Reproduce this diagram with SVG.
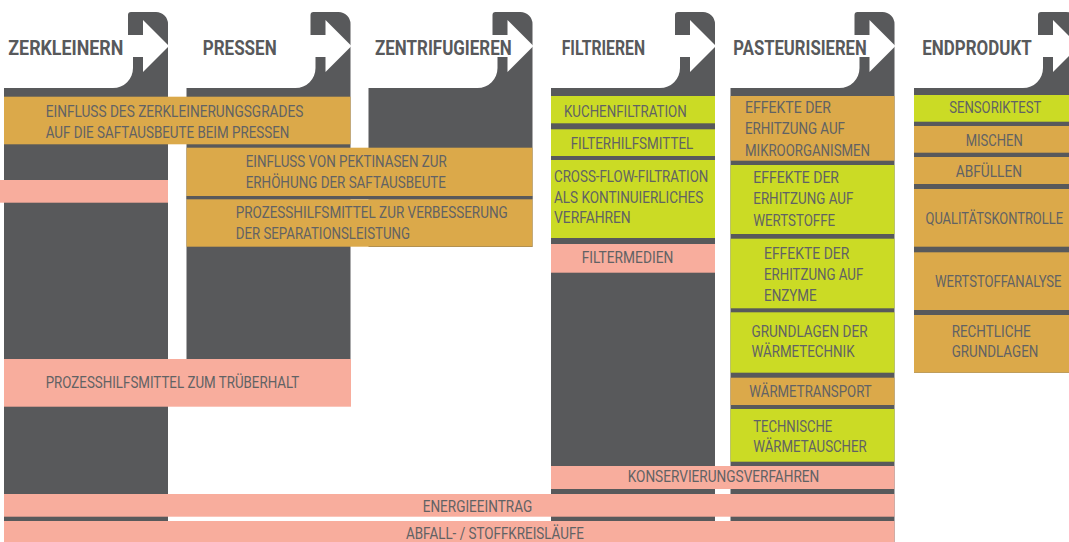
<svg xmlns="http://www.w3.org/2000/svg" width="1069" height="542" viewBox="0 0 1069 542">
<style>
.dk{fill:#58595b}
.gd{fill:#dba94a}
.gr{fill:#cbdb25}
.pk{fill:#f8ad9d}
.ar{fill:#ffffff}
text{font-family:Roboto,"Liberation Sans",sans-serif;}
.h{font-size:21px;font-weight:700;fill:#58595b}
.t{font-size:16px;fill:#616264}
</style>
<rect width="1069" height="542" fill="#ffffff"/>
<g id="columns">
<g id="col-zerkleinern">
<path class="dk" d="M128,15 Q128,12 131,12 H156 A12,12 0 0 1 168,24 V542 H4 V88 H113 A20,20 0 0 0 133,68 V35 H128 Z"/>
<polygon class="ar" points="132,35 143,35 143,20 169,46 143,72 143,57 132,57"/>
<text class="h" x="8.3" y="55" textLength="115" lengthAdjust="spacingAndGlyphs">ZERKLEINERN</text>
</g>
<g id="col-pressen">
<path class="dk" d="M310.5,15 Q310.5,12 313.5,12 H338.5 A12,12 0 0 1 350.5,24 V359 H186.5 V88 H295.5 A20,20 0 0 0 315.5,68 V35 H310.5 Z"/>
<polygon class="ar" points="314.5,35 325.5,35 325.5,20 351.5,46 325.5,72 325.5,57 314.5,57"/>
<text class="h" x="202.7" y="55" textLength="74" lengthAdjust="spacingAndGlyphs">PRESSEN</text>
</g>
<g id="col-zentrifugieren">
<path class="dk" d="M492.5,15 Q492.5,12 495.5,12 H520.5 A12,12 0 0 1 532.5,24 V247 H368.5 V88 H477.5 A20,20 0 0 0 497.5,68 V35 H492.5 Z"/>
<polygon class="ar" points="496.5,35 507.5,35 507.5,20 533.5,46 507.5,72 507.5,57 496.5,57"/>
<text class="h" x="375" y="55" textLength="136.7" lengthAdjust="spacingAndGlyphs">ZENTRIFUGIEREN</text>
</g>
<g id="col-filtrieren">
<path class="dk" d="M675,15 Q675,12 678,12 H703 A12,12 0 0 1 715,24 V542 H551 V88 H660 A20,20 0 0 0 680,68 V35 H675 Z"/>
<polygon class="ar" points="679,35 690,35 690,20 716,46 690,72 690,57 679,57"/>
<text class="h" x="561.7" y="55" textLength="83.3" lengthAdjust="spacingAndGlyphs">FILTRIEREN</text>
</g>
<g id="col-pasteurisieren">
<path class="dk" d="M854.5,15 Q854.5,12 857.5,12 H882.5 A12,12 0 0 1 894.5,24 V542 H730.5 V88 H839.5 A20,20 0 0 0 859.5,68 V35 H854.5 Z"/>
<polygon class="ar" points="858.5,35 869.5,35 869.5,20 895.5,46 869.5,72 869.5,57 858.5,57"/>
<text class="h" x="733.3" y="55" textLength="133.4" lengthAdjust="spacingAndGlyphs">PASTEURISIEREN</text>
</g>
<g id="col-endprodukt">
<path class="dk" d="M1038,15 Q1038,12 1041,12 H1066 A12,12 0 0 1 1078,24 V372.7 H914 V88 H1023 A20,20 0 0 0 1043,68 V35 H1038 Z"/>
<polygon class="ar" points="1042,35 1053,35 1053,20 1079,46 1053,72 1053,57 1042,57"/>
<text class="h" x="922.3" y="55" textLength="109.4" lengthAdjust="spacingAndGlyphs">ENDPRODUKT</text>
</g>
</g>

<g id="bands-left">
<g id="n-zerkleinerungsgrad">
<rect class="gd" x="4" y="96.7" width="346.5" height="47.6"/>
<text class="t" x="45.7" y="116.7" textLength="257.6" lengthAdjust="spacingAndGlyphs">EINFLUSS DES ZERKLEINERUNGSGRADES</text>
<text class="t" x="45.7" y="138.3" textLength="243.6" lengthAdjust="spacingAndGlyphs">AUF DIE SAFTAUSBEUTE BEIM PRESSEN</text>
</g>
<g id="n-pink-col1">
<rect class="pk" x="0" y="180" width="168" height="22.7"/>
</g>
<g id="n-pektinasen">
<rect class="gd" x="186.5" y="147.7" width="346" height="48.3"/>
<text class="t" x="245.7" y="166.7" textLength="201" lengthAdjust="spacingAndGlyphs">EINFLUSS VON PEKTINASEN ZUR</text>
<text class="t" x="245.7" y="188.3" textLength="200.3" lengthAdjust="spacingAndGlyphs">ERHÖHUNG DER SAFTAUSBEUTE</text>
</g>
<rect class="dk" x="186.5" y="196" width="346" height="3.3"/>
<g id="n-separation">
<rect class="gd" x="186.5" y="199.3" width="346" height="47.4"/>
<text class="t" x="235.7" y="218.3" textLength="272" lengthAdjust="spacingAndGlyphs">PROZESSHILFSMITTEL ZUR VERBESSERUNG</text>
<text class="t" x="235.7" y="239" textLength="174.3" lengthAdjust="spacingAndGlyphs">DER SEPARATIONSLEISTUNG</text>
</g>
<g id="n-trueberhalt">
<rect class="pk" x="4" y="359" width="347" height="47.7"/>
<text class="t" x="45.7" y="388.3" textLength="253.6" lengthAdjust="spacingAndGlyphs">PROZESSHILFSMITTEL ZUM TRÜBERHALT</text>
</g>
</g>

<g id="bands-filtrieren">
<g id="n-kuchen">
<rect class="gr" x="551" y="96" width="164" height="27.3"/>
<text class="t" x="564" y="116.7" textLength="122.7" lengthAdjust="spacingAndGlyphs">KUCHENFILTRATION</text>
</g>
<g id="n-filterhilfsmittel">
<rect class="gr" x="551" y="129.3" width="164" height="26.7"/>
<text class="t" x="570.7" y="149.3" textLength="122.6" lengthAdjust="spacingAndGlyphs">FILTERHILFSMITTEL</text>
</g>
<g id="n-crossflow">
<rect class="gr" x="551" y="160" width="164" height="78"/>
<text class="t" x="554" y="181.7" textLength="154.3" lengthAdjust="spacingAndGlyphs">CROSS-FLOW-FILTRATION</text>
<text class="t" x="554" y="202.7" textLength="149.3" lengthAdjust="spacingAndGlyphs">ALS KONTINUIERLICHES</text>
<text class="t" x="554" y="223.3" textLength="76.7" lengthAdjust="spacingAndGlyphs">VERFAHREN</text>
</g>
<g id="n-filtermedien">
<rect class="pk" x="551" y="244" width="164" height="28.7"/>
<text class="t" x="581.7" y="263.3" textLength="91.6" lengthAdjust="spacingAndGlyphs">FILTERMEDIEN</text>
</g>
</g>

<g id="bands-pasteurisieren">
<g id="n-mikroorganismen">
<rect class="gd" x="730.5" y="96" width="164" height="64.7"/>
<text class="t" x="745" y="113.3" textLength="86" lengthAdjust="spacingAndGlyphs">EFFEKTE DER</text>
<text class="t" x="745" y="134.3" textLength="100" lengthAdjust="spacingAndGlyphs">ERHITZUNG AUF</text>
<text class="t" x="745" y="155.7" textLength="125" lengthAdjust="spacingAndGlyphs">MIKROORGANISMEN</text>
</g>
<g id="n-wertstoffe">
<rect class="gr" x="730.5" y="165" width="164" height="69"/>
<text class="t" x="753.3" y="182.7" textLength="85.7" lengthAdjust="spacingAndGlyphs">EFFEKTE DER</text>
<text class="t" x="753.3" y="204" textLength="100" lengthAdjust="spacingAndGlyphs">ERHITZUNG AUF</text>
<text class="t" x="753.3" y="225.7" textLength="81.7" lengthAdjust="spacingAndGlyphs">WERTSTOFFE</text>
</g>
<g id="n-enzyme">
<rect class="gr" x="730.5" y="238.7" width="164" height="69.6"/>
<text class="t" x="764" y="259" textLength="85.3" lengthAdjust="spacingAndGlyphs">EFFEKTE DER</text>
<text class="t" x="764" y="280" textLength="99.3" lengthAdjust="spacingAndGlyphs">ERHITZUNG AUF</text>
<text class="t" x="764" y="300.7" textLength="52.7" lengthAdjust="spacingAndGlyphs">ENZYME</text>
</g>
<g id="n-waermetechnik">
<rect class="gr" x="730.5" y="312.3" width="164" height="60.4"/>
<text class="t" x="751.5" y="336.7" textLength="116" lengthAdjust="spacingAndGlyphs">GRUNDLAGEN DER</text>
<text class="t" x="751.5" y="357.3" textLength="103" lengthAdjust="spacingAndGlyphs">WÄRMETECHNIK</text>
</g>
<g id="n-waermetransport">
<rect class="gd" x="730.5" y="377.7" width="164" height="27.3"/>
<text class="t" x="749.3" y="396.7" textLength="122.4" lengthAdjust="spacingAndGlyphs">WÄRMETRANSPORT</text>
</g>
<g id="n-waermetauscher">
<rect class="gr" x="730.5" y="409" width="164" height="52.7"/>
<text class="t" x="753.3" y="431.7" textLength="79" lengthAdjust="spacingAndGlyphs">TECHNISCHE</text>
<text class="t" x="753.3" y="452.3" textLength="113.4" lengthAdjust="spacingAndGlyphs">WÄRMETAUSCHER</text>
</g>
</g>

<g id="bands-endprodukt">
<g id="n-sensoriktest">
<rect class="gr" x="914" y="95" width="155" height="26.7"/>
<text class="t" x="949.3" y="113.3" textLength="92" lengthAdjust="spacingAndGlyphs">SENSORIKTEST</text>
</g>
<g id="n-mischen">
<rect class="gd" x="914" y="126" width="155" height="26.7"/>
<text class="t" x="965.7" y="145.7" textLength="57" lengthAdjust="spacingAndGlyphs">MISCHEN</text>
</g>
<g id="n-abfuellen">
<rect class="gd" x="914" y="157" width="155" height="27"/>
<text class="t" x="955.7" y="177.3" textLength="66.3" lengthAdjust="spacingAndGlyphs">ABFÜLLEN</text>
</g>
<g id="n-qualitaet">
<rect class="gd" x="914" y="189" width="155" height="57.7"/>
<text class="t" x="925.5" y="224.3" textLength="137.5" lengthAdjust="spacingAndGlyphs">QUALITÄTSKONTROLLE</text>
</g>
<g id="n-wertstoffanalyse">
<rect class="gd" x="914" y="252.3" width="155" height="57.7"/>
<text class="t" x="935" y="287.3" textLength="126.5" lengthAdjust="spacingAndGlyphs">WERTSTOFFANALYSE</text>
</g>
<g id="n-recht">
<rect class="gd" x="914" y="315" width="155" height="57.7"/>
<text class="t" x="951.7" y="336.7" textLength="79" lengthAdjust="spacingAndGlyphs">RECHTLICHE</text>
<text class="t" x="951.7" y="357.3" textLength="86.6" lengthAdjust="spacingAndGlyphs">GRUNDLAGEN</text>
</g>
</g>

<g id="bands-bottom">
<g id="n-konservierung">
<rect class="pk" x="551" y="466" width="343.5" height="23"/>
<text class="t" x="627.7" y="482.3" textLength="191.6" lengthAdjust="spacingAndGlyphs">KONSERVIERUNGSVERFAHREN</text>
</g>
<g id="n-energie">
<rect class="pk" x="4" y="494" width="890.5" height="22.7"/>
<text class="t" x="422.7" y="511.7" textLength="109.5" lengthAdjust="spacingAndGlyphs">ENERGIEEINTRAG</text>
</g>
<g id="n-abfall">
<rect class="pk" x="4" y="521" width="890.5" height="21"/>
<text class="t" x="406" y="539.3" textLength="178" lengthAdjust="spacingAndGlyphs">ABFALL- / STOFFKREISLÄUFE</text>
</g>
</g>
<g id="connectors"/>
</svg>
